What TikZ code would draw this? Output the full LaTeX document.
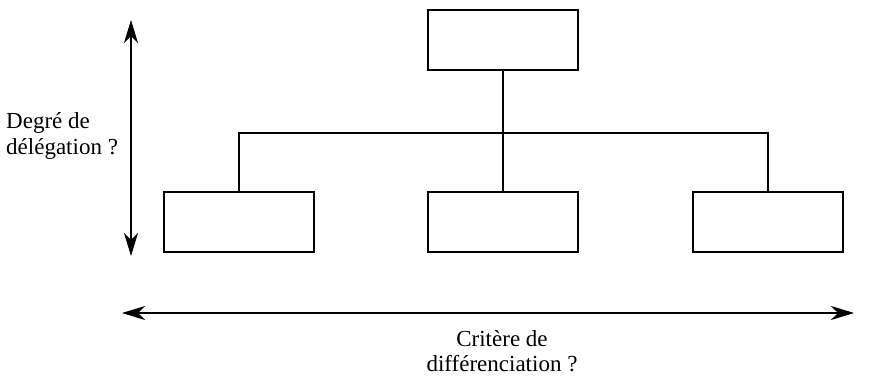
\documentclass[tikz,border=0pt]{standalone}
\usepackage{fontspec}
\setmainfont{Liberation Serif}
\usetikzlibrary{arrows.meta, positioning, calc}

\begin{document}
\begin{tikzpicture}[x=1pt, y=-1pt, >={Stealth[length=23pt,width=14pt,inset=7pt]},
    unit/.style={draw, line width=1.1pt, minimum width=150pt, minimum height=60pt, inner sep=0pt},
    link/.style={line width=1.1pt},
    axis/.style={line width=1.1pt, <->},
    lbl/.style={font=\fontsize{23}{25.5}\selectfont}]
      \useasboundingbox (0,0) rectangle (877,377);

      % boxes
      \node[unit] (top) at (503, 40) {};
      \node[unit] (left) at (239, 222) {};
      \node[unit] (mid) at (503, 222) {};
      \node[unit] (right) at (768, 222) {};

      % links
      \coordinate (bar) at (503, 133);
      \draw[link] (top.south) -- (bar) -- (mid.north);
      \draw[link] (left.north) |- (bar) -| (right.north);

      % axes
      \coordinate (vtop) at (131, 20);
      \coordinate (vbot) at (131, 256);
      \coordinate (hleft) at (122, 313);
      \coordinate (hright) at (854, 313);
      \draw[axis] (vtop) -- (vbot);
      \draw[axis] (hleft) -- (hright);

      \node[lbl, align=left, anchor=west, inner sep=0pt] (deg) at (6, 136) {Degré de\\délégation ?};
      \node[lbl, align=center] (crit) at (502, 351) {Critère de\\différenciation ?};
    \end{tikzpicture}
\end{document}
